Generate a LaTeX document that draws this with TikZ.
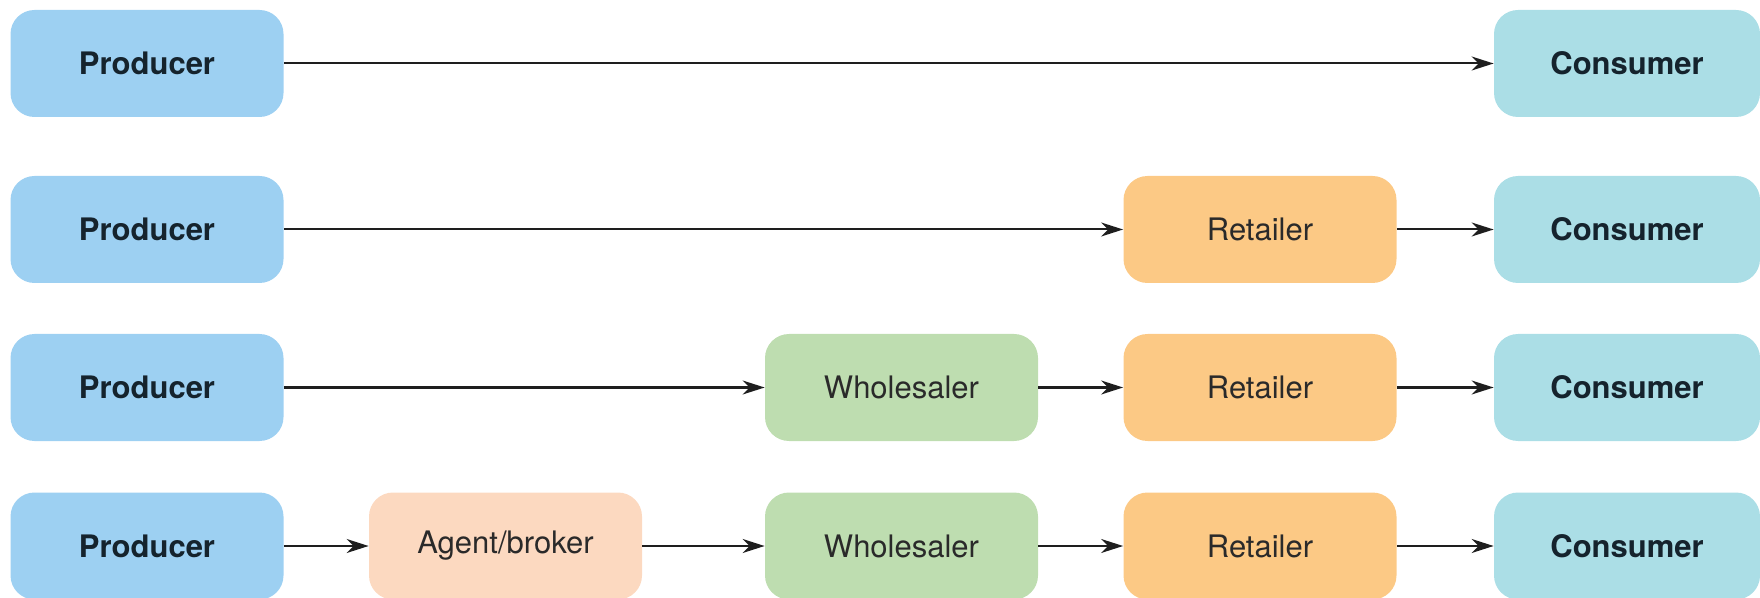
\documentclass[tikz,border=0pt]{standalone}
\usepackage{fontspec}
\setmainfont{TeX Gyre Heros}
\usetikzlibrary{arrows.meta}

\definecolor{prodfill}{HTML}{9DD0F2}
\definecolor{consfill}{HTML}{ABDEE6}
\definecolor{retfill}{HTML}{FCC985}
\definecolor{whofill}{HTML}{BEDDB0}
\definecolor{agfill}{HTML}{FCD9C0}
\definecolor{darklabel}{HTML}{15232D}
\definecolor{midlabel}{HTML}{2A2A2A}
\definecolor{linkcol}{HTML}{1E1E1E}

\tikzset{
  chainbox/.style={rounded corners=12pt, minimum width=136.5pt, minimum height=53.5pt,
    inner sep=0pt, font=\fontsize{15.5}{18}\selectfont},
  endbox/.style={chainbox, text=darklabel, font=\fontsize{15.5}{18}\selectfont\bfseries},
  midbox/.style={chainbox, text=midlabel},
  producer/.style={endbox, fill=prodfill},
  consumer/.style={endbox, fill=consfill, minimum width=133pt},
  retailer/.style={midbox, fill=retfill},
  wholesaler/.style={midbox, fill=whofill},
  agent/.style={midbox, fill=agfill},
  flow/.style={draw=linkcol, line width=1pt,
    -{Stealth[length=11pt, width=7pt, inset=3.5pt]}}
}

\begin{document}
\begin{tikzpicture}[x=0.5pt, y=-0.5pt]
  \useasboundingbox (0,0) rectangle (1760,598);

  % direct channel
  \node[producer] (p1) at (147,63.5) {Producer};
  \node[consumer] (c1) at (1627,63.5) {Consumer};
  \draw[flow] (p1) -- (c1);

  % via retailer
  \node[producer] (p2) at (147,229.5) {Producer};
  \node[retailer] (r2) at (1260,229.5) {Retailer};
  \node[consumer] (c2) at (1627,229.5) {Consumer};
  \draw[flow] (p2) -- (r2);
  \draw[flow] (r2) -- (c2);

  % via wholesaler and retailer
  \node[producer] (p3) at (147,387.5) {Producer};
  \node[wholesaler] (w3) at (901.5,387.5) {Wholesaler};
  \node[retailer] (r3) at (1260,387.5) {Retailer};
  \node[consumer] (c3) at (1627,387.5) {Consumer};
  \draw[flow] (p3) -- (w3);
  \draw[flow] (w3) -- (r3);
  \draw[flow] (r3) -- (c3);

  % via agent, wholesaler and retailer
  \node[producer] (p4) at (147,546) {Producer};
  \node[agent] (a4) at (505.5,546) {Agent/broker};
  \node[wholesaler] (w4) at (901.5,546) {Wholesaler};
  \node[retailer] (r4) at (1260,546) {Retailer};
  \node[consumer] (c4) at (1627,546) {Consumer};
  \draw[flow] (p4) -- (a4);
  \draw[flow] (a4) -- (w4);
  \draw[flow] (w4) -- (r4);
  \draw[flow] (r4) -- (c4);
\end{tikzpicture}
\end{document}
